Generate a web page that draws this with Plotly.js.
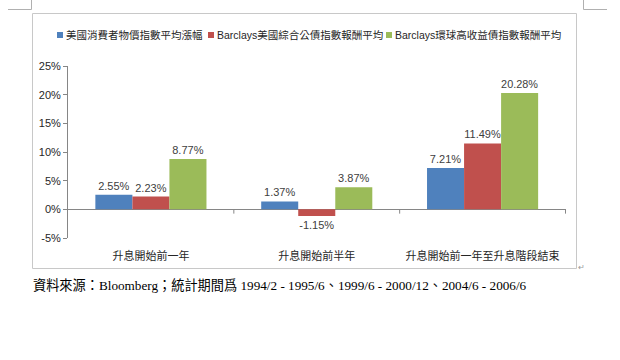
<!DOCTYPE html>
<html><head><meta charset="utf-8">
<script src="https://cdn.plot.ly/plotly-3.0.1.min.js"></script>
<style>html,body{margin:0;padding:0;background:#fff;}#chart{width:620px;height:360px;}</style>
</head><body><div id="chart"></div>
<script>
const categories = ['升息開始前一年', '升息開始前半年', '升息開始前一年至升息階段結束'];
const seriesNames = ['美國消費者物價指數平均漲幅', 'Barclays美國綜合公債指數報酬平均', 'Barclays環球高收益債指數報酬平均'];
const cpi = [2.55, 1.37, 7.21];
const aggBond = [2.23, -1.15, 11.49];
const highYield = [8.77, 3.87, 20.28];
const yTicks = [-5, 0, 5, 10, 15, 20, 25];
const colors = ['#4F81BD', '#C0504D', '#9BBB59'];
const footnote = '資料來源：Bloomberg；統計期間爲 1994/2 - 1995/6、1999/6 - 2000/12、2004/6 - 2006/6';

const font = '"Liberation Sans", "Noto Sans CJK TC", Arial, sans-serif';
const M = {l: 68, r: 54, t: 66, b: 122};
const PW = 620 - M.l - M.r, PH = 360 - M.t - M.b;
const px2x = p => (p - M.l) / PW;
const px2y = p => (360 - M.b - p) / PH;

const vals = [cpi, aggBond, highYield];
const traces = vals.map((v, i) => ({
  type: 'bar', x: categories, y: v, name: seriesNames[i],
  marker: {color: colors[i]},
  text: v.map(d => d.toFixed(2) + '%'), textposition: 'outside',
  textfont: {size: 11, color: '#404040', family: font},
  cliponaxis: false, hoverinfo: 'none'
}));

const boundaryShapes = [0.5, 1.5, 2.5].map(b => ({
  type: 'line', xref: 'x', yref: 'y', x0: b, x1: b, y0: 0, y1: -0.75,
  line: {color: '#868686', width: 1}
}));

const legendX = [57, 208, 386];
const legendY = 35;
const legendShapes = legendX.map((p, i) => ({
  type: 'rect', xref: 'paper', yref: 'paper',
  x0: px2x(p), x1: px2x(p + 6), y0: px2y(legendY + 3), y1: px2y(legendY - 3),
  fillcolor: colors[i], line: {width: 0}
}));
const legendAnn = legendX.map((p, i) => ({
  text: seriesNames[i], xref: 'paper', yref: 'paper', x: px2x(p + 7), y: px2y(legendY),
  xanchor: 'left', yanchor: 'middle', showarrow: false,
  font: {size: 10.5, color: '#262626', family: font}
}));

const layout = {
  width: 620, height: 360,
  margin: M,
  paper_bgcolor: '#fff', plot_bgcolor: '#fff',
  barmode: 'group', bargap: 0.33, bargroupgap: 0,
  showlegend: false,
  xaxis: {showline: false, ticks: '', showgrid: false, zeroline: false, ticklabelstandoff: 10,
          tickfont: {size: 11, color: '#262626', family: font}, fixedrange: true},
  yaxis: {range: [-5, 25], tickvals: yTicks, ticktext: yTicks.map(t => t + '%'),
          showline: true, linecolor: '#868686', linewidth: 1, ticks: 'outside', ticklen: 4,
          tickcolor: '#868686', showgrid: false, zeroline: true, zerolinecolor: '#868686',
          zerolinewidth: 1, tickfont: {size: 11, color: '#262626', family: font}, fixedrange: true},
  shapes: [...boundaryShapes, ...legendShapes],
  annotations: legendAnn
};
Plotly.newPlot('chart', traces, layout, {displayModeBar: false, staticPlot: true}).then(() => {
  const svg = document.querySelector('#chart svg.main-svg');
  const ns = 'http://www.w3.org/2000/svg';
  function line(x1, y1, x2, y2, c) {
    const l = document.createElementNS(ns, 'line');
    l.setAttribute('x1', x1); l.setAttribute('y1', y1); l.setAttribute('x2', x2); l.setAttribute('y2', y2);
    l.setAttribute('stroke', c); l.setAttribute('stroke-width', 1);
    svg.appendChild(l);
  }
  line(32.5, 13.5, 576.5, 13.5, '#c8c8c8');
  line(32.5, 13.5, 32.5, 268.5, '#c8c8c8');
  line(576.5, 13.5, 576.5, 268.5, '#c8c8c8');
  line(32.5, 268.5, 576.5, 268.5, '#c8c8c8');
  line(31.5, 0, 31.5, 9.5, '#b0b0b0');
  line(8, 9.5, 31.5, 9.5, '#b0b0b0');
  line(583.5, 0, 583.5, 9.5, '#b0b0b0');
  line(583.5, 9.5, 607, 9.5, '#b0b0b0');
  const t = document.createElementNS(ns, 'text');
  t.setAttribute('x', 33); t.setAttribute('y', 290);
  t.setAttribute('font-family', '"Liberation Serif", "Noto Sans CJK TC", serif');
  t.setAttribute('font-size', 13.2); t.setAttribute('fill', '#000');
  t.textContent = footnote;
  svg.appendChild(t);
  const r = document.createElementNS(ns, 'text');
  r.setAttribute('x', 578); r.setAttribute('y', 270);
  r.setAttribute('font-size', 8); r.setAttribute('fill', '#999');
  r.textContent = '↵';
  svg.appendChild(r);
});
</script></body></html>
